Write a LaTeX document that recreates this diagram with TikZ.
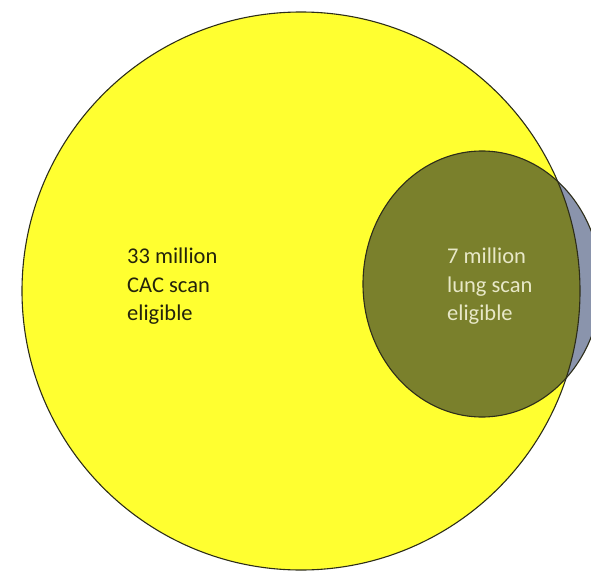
\documentclass[tikz,border=0pt]{standalone}
\usepackage{fontspec}
\setmainfont{Carlito}
\definecolor{cacyellow}{RGB}{255,255,48}
\definecolor{lungolive}{RGB}{122,128,44}
\definecolor{lunggray}{RGB}{138,148,172}
\definecolor{edgecol}{RGB}{45,45,25}
\definecolor{darktext}{RGB}{35,35,12}
\definecolor{lighttext}{RGB}{232,232,200}
\tikzset{
  venntext/.style={align=left, inner sep=0pt, anchor=north west,
    font=\fontsize{22.5}{28.5}\selectfont},
  outline/.style={draw=edgecol, line width=1.1pt}
}
\begin{document}
\begin{tikzpicture}[x=1pt,y=-1pt]
\useasboundingbox (0,0) rectangle (591,572);
\clip (0,0) rectangle (591,572);
\fill[cacyellow] (301,291) circle[radius=279];
\fill[lunggray] (482,284) ellipse[x radius=119, y radius=133];
\begin{scope}
  \clip (301,291) circle[radius=279];
  \fill[lungolive] (482,284) ellipse[x radius=119, y radius=133];
\end{scope}
\draw[outline] (301,291) circle[radius=279];
\draw[outline] (482,284) ellipse[x radius=119, y radius=133];
\node[venntext, text=darktext] (cac) at (127,248) {33 million\\CAC scan\\eligible};
\node[venntext, text=lighttext] (lung) at (447,248) {7 million\\lung scan\\eligible};
\end{tikzpicture}
\end{document}
